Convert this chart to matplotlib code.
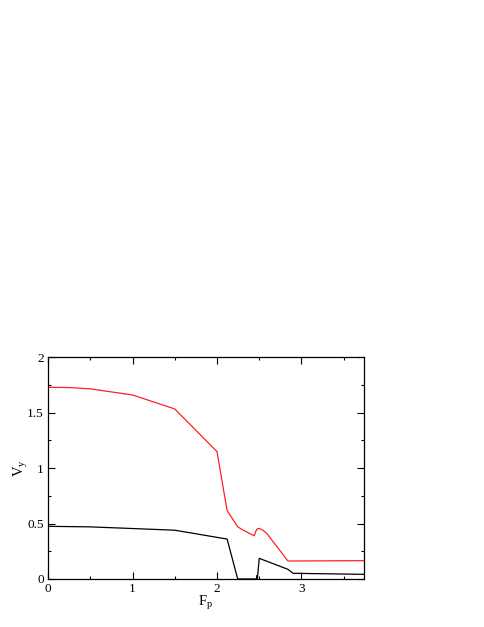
import numpy as np
from matplotlib import pyplot as plt
from matplotlib.ticker import MultipleLocator

plt.rcParams['font.family'] = ['Liberation Serif', 'DejaVu Serif']

# red curve
fpRed = [0.0, 0.25, 0.5, 1.0, 1.5, 2.0, 2.12, 2.245, 2.32, 2.44, 2.47, 2.5, 2.55, 2.59, 2.84, 3.74]
vyRed = [1.729, 1.727, 1.715, 1.66, 1.534, 1.149, 0.617, 0.47, 0.436, 0.39, 0.448, 0.457, 0.436, 0.41, 0.162, 0.165]

# black curve
fpBlack = [0.0, 0.5, 1.0, 1.5, 2.12, 2.245, 2.47, 2.472, 2.478, 2.5, 2.84, 2.9, 3.74]
vyBlack = [0.475, 0.47, 0.455, 0.44, 0.36, 0.0, 0.0, 0.03, 0.0, 0.186, 0.087, 0.051, 0.042]

fig = plt.figure(figsize=(4.85, 6.27), dpi=100)
ax = fig.add_axes([0.099, 0.0766, 0.6515, 0.3536])

ax.plot(fpRed, vyRed, color='#ff2020', lw=0.9)
ax.plot(fpBlack, vyBlack, color='black', lw=0.9)

ax.set_xlim(0, 3.74)
ax.set_ylim(0, 2)
ax.xaxis.set_major_locator(MultipleLocator(1))
ax.xaxis.set_minor_locator(MultipleLocator(0.5))
ax.yaxis.set_major_locator(MultipleLocator(0.5))
ax.yaxis.set_minor_locator(MultipleLocator(0.25))
ax.xaxis.set_major_formatter(plt.FuncFormatter(lambda v, p: '%g' % v))
ax.yaxis.set_major_formatter(plt.FuncFormatter(lambda v, p: '%g' % v))
ax.tick_params(which='both', direction='in', top=True, right=True, labelsize=9.5, width=0.8)
ax.tick_params(which='major', length=5, pad=3)
ax.tick_params(which='minor', length=2.5)
for s in ax.spines.values():
  s.set_linewidth(0.9)

ax.set_xlabel(r'F$_\mathregular{p}$', fontsize=10.5, labelpad=-1)
ax.set_ylabel(r'V$_\mathregular{y}$', fontsize=10.5, labelpad=-2)

fig.savefig('out.png', dpi=100)
